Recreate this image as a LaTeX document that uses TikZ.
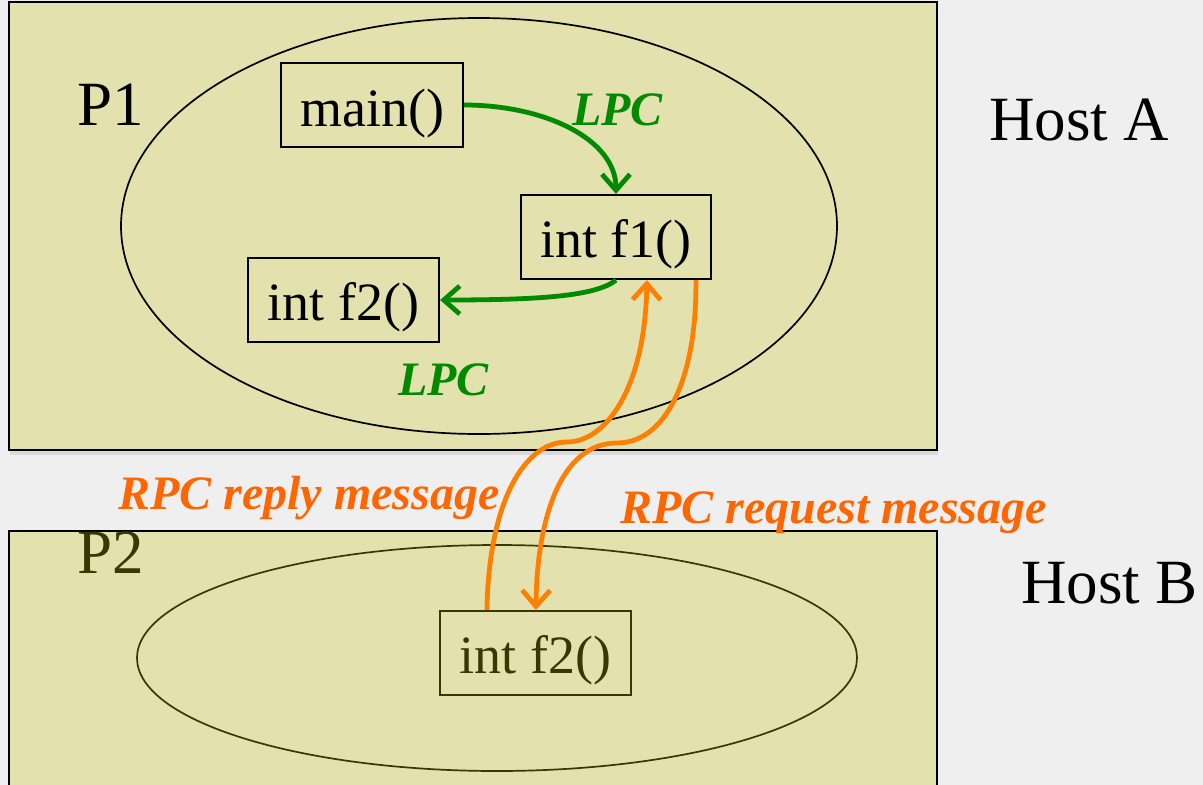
\documentclass[tikz,border=0pt]{standalone}
\usepackage{fontspec}
\setmainfont{Liberation Serif}
\usetikzlibrary{arrows.meta,shadows,calc,shapes.geometric}
\definecolor{bg}{HTML}{EFEFEF}
\definecolor{hostfill}{HTML}{E3E1AE}
\definecolor{darkolive}{HTML}{3A3800}
\definecolor{lpcgreen}{HTML}{008A00}
\definecolor{rpcorange}{HTML}{FF6600}
\definecolor{arroworange}{HTML}{FF8000}
\begin{document}
\begin{tikzpicture}[x=1pt,y=-1pt,
  hostbox/.style={draw=black, line width=2.2pt, fill=hostfill, inner sep=0pt},
  procring/.style={ellipse, draw=black, line width=1.7pt, inner sep=0pt},
  fnbox/.style={draw=black, line width=2.2pt, inner sep=0pt, minimum height=84pt,
    text height=46pt, text depth=6pt, font=\fontsize{54}{54}\selectfont},
  bigtext/.style={font=\fontsize{63}{63}\selectfont, inner sep=0pt, anchor=base west},
  lpclabel/.style={text=lpcgreen, font=\fontsize{48}{48}\selectfont\bfseries\itshape, inner sep=0pt, anchor=base west},
  rpclabel/.style={text=rpcorange, font=\fontsize{48}{48}\selectfont\bfseries\itshape, inner sep=0pt, anchor=base west},
  lpcarrow/.style={draw=lpcgreen, line width=4.8pt, -{Straight Barb[length=16pt,width=28pt]}},
  rpcarrow/.style={draw=arroworange, line width=4.8pt, -{Straight Barb[length=16pt,width=28pt]}}
]
\fill[bg] (0,0) rectangle (1203,785);
\useasboundingbox (0,0) rectangle (1203,785);
\clip (0,0) rectangle (1203,785);

% hosts
\node[hostbox, minimum width=928pt, minimum height=448pt,
  drop shadow={opacity=0.18, shadow xshift=1pt, shadow yshift=-5pt}] (hostA) at (473,226) {};
\node[hostbox, minimum width=928pt, minimum height=300pt] (hostB) at (473,681) {};

% processes
\node[procring, minimum width=716pt, minimum height=416pt] (p1) at (479,226) {};
\node[procring, draw=darkolive, minimum width=720pt, minimum height=226pt] (p2) at (497,658) {};

% function boxes
\node[fnbox, minimum width=182pt, text height=48pt] (main) at (372,105) {main()};
\node[fnbox, minimum width=190pt] (f1) at (616,237) {int f1()};
\node[fnbox, minimum width=191pt] (f2a) at (343.5,300) {int f2()};
\node[fnbox, draw=darkolive, text=darkolive, minimum width=191pt] (f2b) at (535.5,653) {int f2()};

% labels
\node[bigtext] (lp1) at (77,125) {P1};
\node[bigtext, text=darkolive] (lp2) at (77,573) {P2};
\node[bigtext] (lhA) at (989,140) {Host A};
\node[bigtext] (lhB) at (1021,603) {Host B};
\node[lpclabel] (lpc1) at (572,125) {LPC};
\node[lpclabel] (lpc2) at (398,395) {LPC};
\node[rpclabel] (rpcrep) at (118,509) {RPC reply message};
\node[rpclabel] (rpcreq) at (620,523) {RPC request message};

% local calls
\draw[lpcarrow] (main.east) .. controls +(80,0) and +(0,-55) .. (f1.north);
\draw[lpcarrow] (f1.south) .. controls +(-20,16) and +(100,0) .. (f2a.east);

% remote calls
\coordinate (repstart) at ($(f2b.north west)+(48,0)$);
\coordinate (repend) at ($(f1.south west)+(127,0)$);
\coordinate (repmid) at (567,442);
\coordinate (reqstart) at ($(f1.south west)+(176,0)$);
\coordinate (reqend) at ($(f2b.north west)+(97,0)$);
\coordinate (reqmid) at (617,443);
\draw[rpcarrow] (repstart) .. controls (489,500) and (525,442) .. (repmid)
  .. controls (605,442) and (645,390) .. (repend);
\draw[rpcarrow] (reqstart) .. controls (697,380) and (665,443) .. (reqmid)
  .. controls (560,443) and (537,520) .. (reqend);
\end{tikzpicture}
\end{document}
